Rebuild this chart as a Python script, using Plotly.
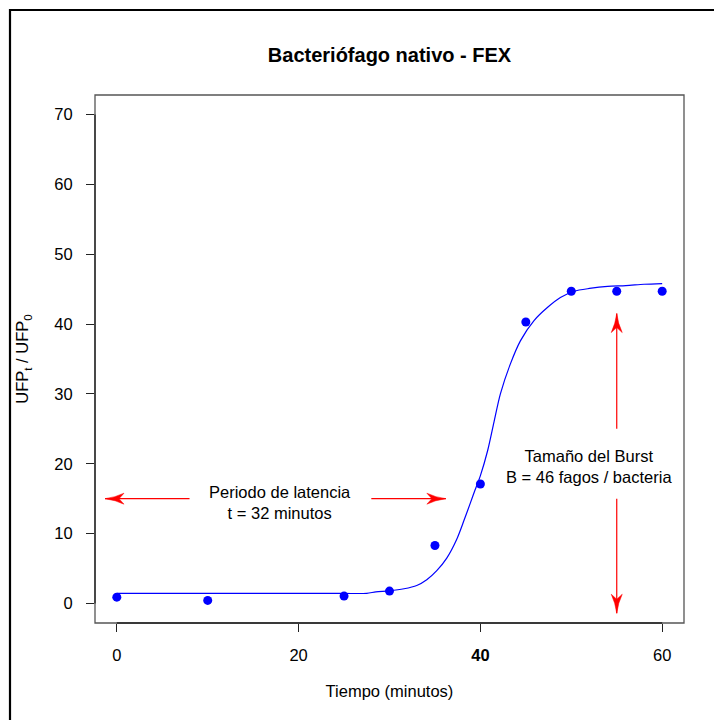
import plotly.graph_objects as go

# Measured one-step growth data
tiempo = [0, 10, 25, 30, 35, 40, 45, 50, 55, 60]
ufp_ratio = [0.9, 0.43, 1.05, 1.77, 8.3, 17.1, 40.3, 44.7, 44.7, 44.7]

# Fitted growth curve
curva_x = [0, 5, 10, 15, 20, 25, 27.5, 28.5, 30.0, 31.6, 33.0, 34.1, 35.2, 36.3,
           37.4, 38.2, 38.9, 39.4, 40.0, 40.8, 41.5, 42.2, 43.3, 44.4, 45.9, 47.4,
           48.8, 50.3, 52.0, 54.0, 56.0, 58.0, 60.0]
curva_y = [1.43, 1.43, 1.43, 1.43, 1.43, 1.43, 1.45, 1.65, 1.8, 2.1, 2.58, 3.4,
           4.7, 6.5, 9.2, 11.9, 14.4, 16.2, 18.3, 21.9, 26.0, 30.0, 34.3, 37.6,
           40.5, 42.4, 43.8, 44.7, 45.1, 45.4, 45.5, 45.7, 45.8]

x_ticks = [0, 20, 40, 60]
x_ticktext = ["0", "20", "<b>40</b>", "60"]
y_ticks = [0, 10, 20, 30, 40, 50, 60, 70]

# Annotation arrows: (x_tail, y_tail, x_head, y_head)
flechas = [
    (8.0, 15.0, -1.3, 15.0),
    (28.0, 15.0, 36.2, 15.0),
    (55.0, 25.0, 55.0, 41.5),
    (55.0, 15.0, 55.0, -1.4),
]
latencia_txt = ("Periodo de latencia", "t = 32 minutos")
burst_txt = ("Tamaño del Burst", "B = 46 fagos / bacteria")

W, H = 714, 720
ML, MR, MT, MB = 95, 30, 95, 97
XR = [-2.4, 62.4]
YR = [-2.8, 72.8]
px_x = (W - ML - MR) / (XR[1] - XR[0])
px_y = (H - MT - MB) / (YR[1] - YR[0])

FONT = "Liberation Sans, Arial, sans-serif"
FS = 16.5

fig = go.Figure()

fig.add_trace(go.Scatter(
    x=curva_x, y=curva_y, mode="lines",
    line=dict(color="#0000FF", width=1.2, shape="spline", smoothing=0.8),
    hoverinfo="skip", showlegend=False))

fig.add_trace(go.Scatter(
    x=tiempo, y=ufp_ratio, mode="markers",
    marker=dict(color="#0000FF", size=9, line=dict(width=0)),
    showlegend=False))

shapes = []


def arrow_head(xt, yt, xh, yh, length=19.0, half_w=5.5, notch=14.0):
    """Concave red arrowhead drawn in pixel proportions, expressed in data units."""
    dx = (xh - xt) * px_x
    dy = (yh - yt) * px_y
    n = (dx ** 2 + dy ** 2) ** 0.5
    ux, uy = dx / n, dy / n
    vx, vy = -uy, ux

    def pt(a, b):
        px = -a * ux + b * vx
        py = -a * uy + b * vy
        return xh + px / px_x, yh + py / px_y

    b1 = pt(length, half_w)
    b2 = pt(length, -half_w)
    nk = pt(notch, 0)
    c1 = pt(length * 0.55, half_w * 0.25)
    c2 = pt(length * 0.55, -half_w * 0.25)
    return (f"M{xh},{yh} Q{c1[0]},{c1[1]} {b1[0]},{b1[1]} L{nk[0]},{nk[1]} "
            f"L{b2[0]},{b2[1]} Q{c2[0]},{c2[1]} {xh},{yh} Z")


for xt, yt, xh, yh in flechas:
    shapes.append(dict(type="line", xref="x", yref="y", x0=xt, y0=yt, x1=xh, y1=yh,
                       line=dict(color="#FF0000", width=1.2)))
    shapes.append(dict(type="path", xref="x", yref="y", path=arrow_head(xt, yt, xh, yh),
                       fillcolor="#FF0000", line=dict(color="#FF0000", width=0.5)))

# plot box
shapes.append(dict(type="rect", xref="paper", yref="paper", x0=0, x1=1, y0=0, y1=1,
                   line=dict(color="#555555", width=1.3), layer="above"))
# axis lines over the tick range
shapes.append(dict(type="line", xref="x", yref="paper", x0=x_ticks[0], x1=x_ticks[-1],
                   y0=0, y1=0, line=dict(color="#222222", width=1.3), layer="above"))
shapes.append(dict(type="line", xref="paper", yref="y", x0=0, x1=0,
                   y0=y_ticks[0], y1=y_ticks[-1], line=dict(color="#222222", width=1.3),
                   layer="above"))
# outer frame
pw, ph = W - ML - MR, H - MT - MB
shapes.append(dict(type="rect", xref="paper", yref="paper",
                   x0=(10 - ML) / pw, x1=(W + 20 - ML) / pw,
                   y0=-(MB + 20) / ph, y1=(H - MB - 10) / ph,
                   line=dict(color="black", width=2.2)))

annotations = [
    dict(x=18, y=15, xref="x", yref="y", text="<br>".join(latencia_txt),
         showarrow=False, yshift=-4, font=dict(size=FS, color="black", family=FONT),
         align="center"),
    dict(x=52, y=20, xref="x", yref="y", text="<br>".join(burst_txt),
         showarrow=False, yshift=-3, font=dict(size=FS, color="black", family=FONT),
         align="center"),
]

fig.update_layout(
    width=W, height=H,
    margin=dict(l=ML, r=MR, t=MT, b=MB),
    paper_bgcolor="white", plot_bgcolor="white",
    font=dict(family=FONT, size=FS, color="black"),
    title=dict(text="<b>Bacteriófago nativo - FEX</b>", x=(ML + pw / 2) / W, xanchor="center",
               y=1 - 55 / H, yanchor="middle", font=dict(size=20, family=FONT)),
    shapes=shapes,
    annotations=annotations,
    xaxis=dict(range=XR, tickvals=x_ticks, ticktext=x_ticktext, ticks="outside",
               ticklen=8, tickcolor="#222222", tickwidth=1, showgrid=False,
               zeroline=False, showline=False, ticklabelstandoff=9,
               tickfont=dict(size=FS),
               title=dict(text="Tiempo (minutos)", standoff=22, font=dict(size=FS))),
    yaxis=dict(range=YR, tickvals=y_ticks, ticks="outside", ticklen=8,
               tickcolor="#222222", tickwidth=1, showgrid=False, zeroline=False,
               showline=False, ticklabelstandoff=10, tickfont=dict(size=FS),
               title=dict(text="UFP<sub>t</sub> / UFP<sub>0</sub>", standoff=21,
                          font=dict(size=FS))),
)

fig.write_html("out.html")
